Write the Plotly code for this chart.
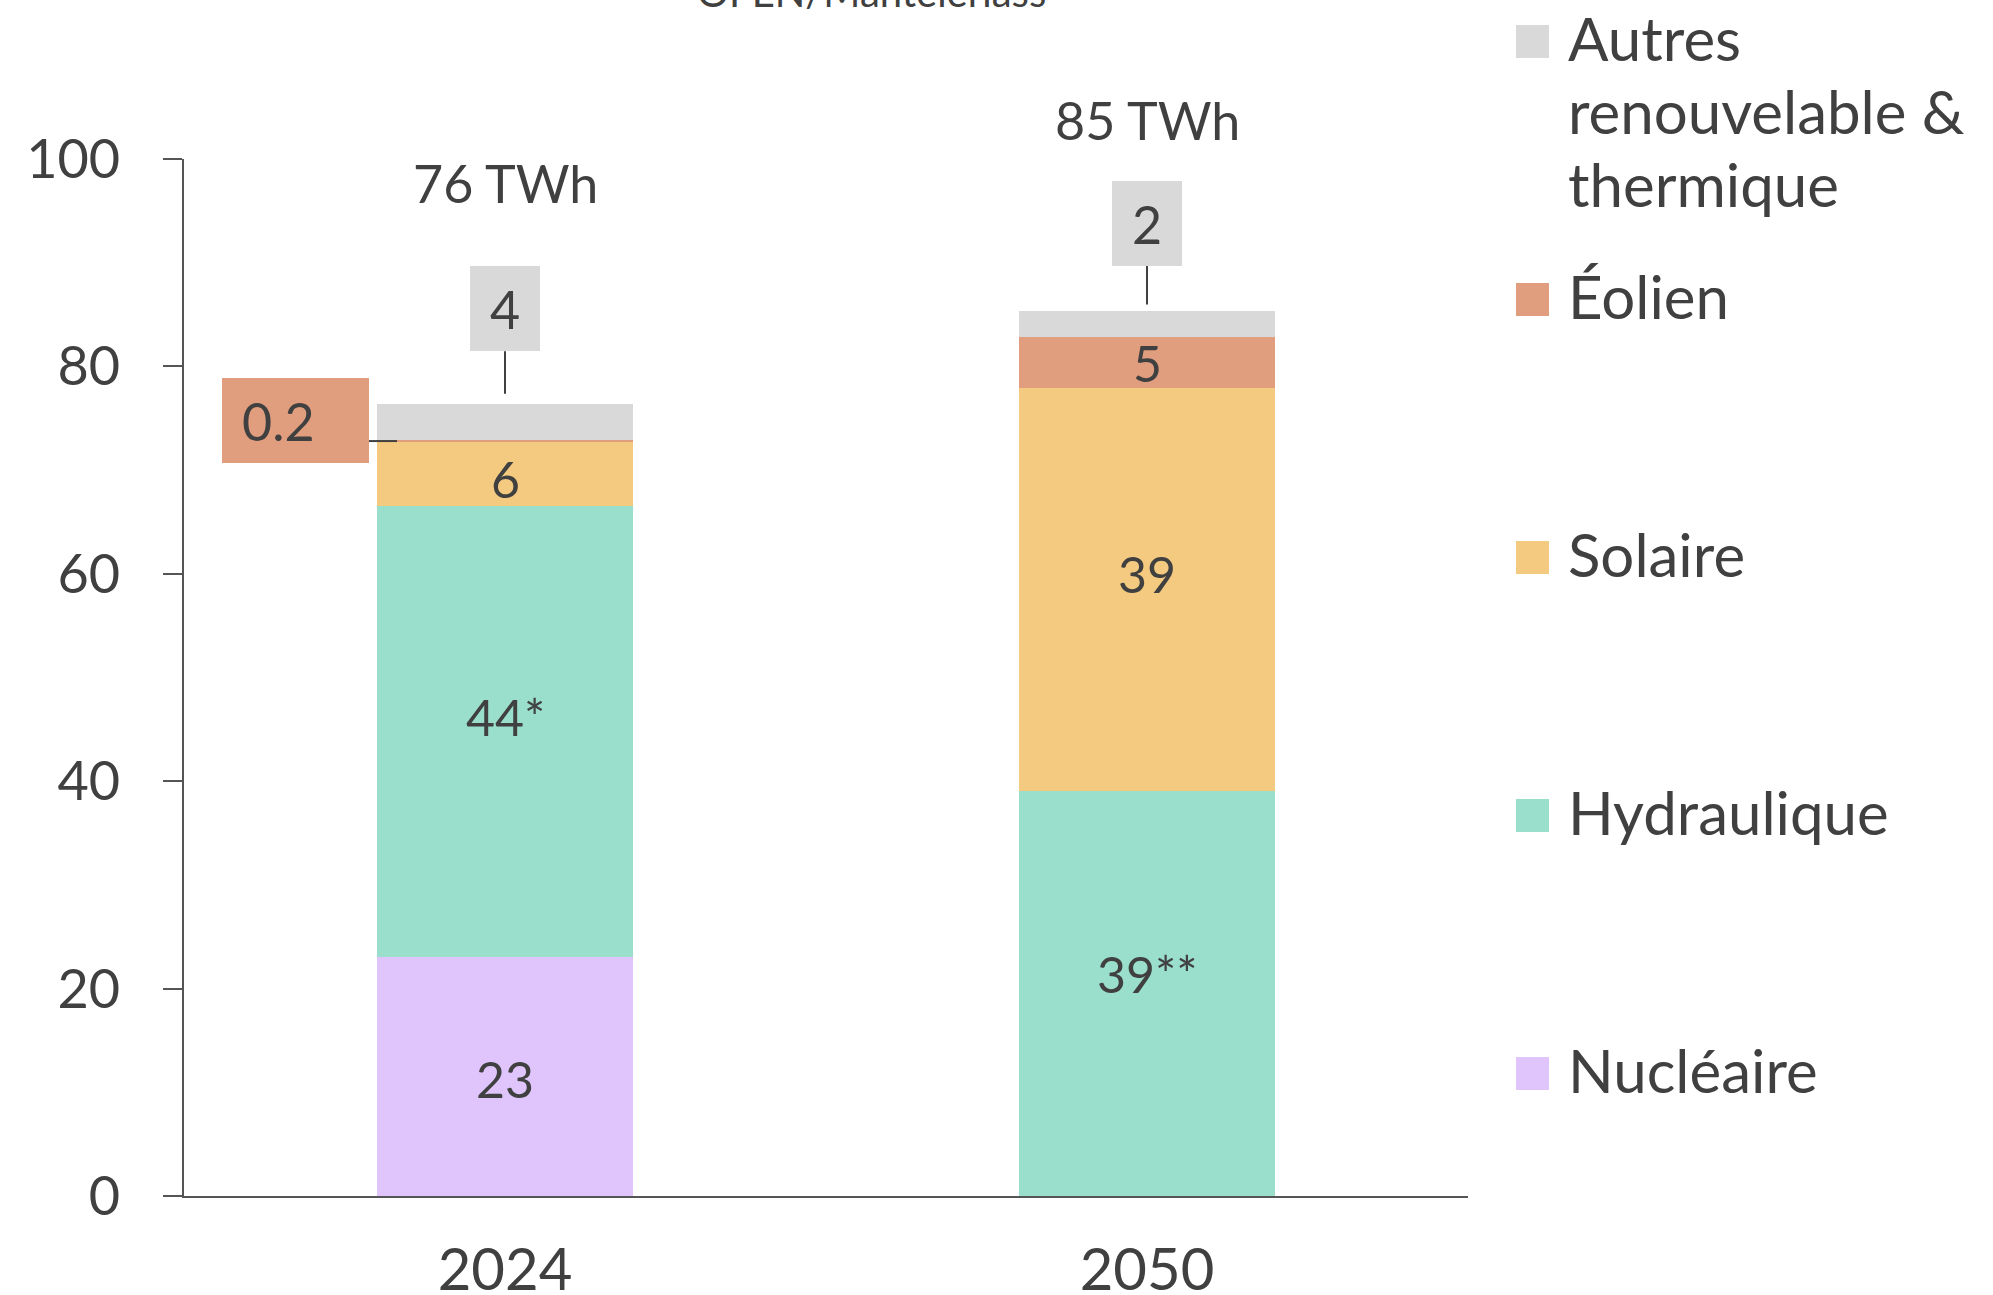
import plotly.graph_objects as go

# ---- data ----
years = ["2024", "2050"]
series_names = ["Nucléaire", "Hydraulique", "Solaire", "Éolien", "Autres renouvelable & thermique"]
nucleaire = [23.0, 0.0]
hydraulique = [43.5, 39.1]
solaire = [6.2, 38.8]
eolien = [0.2, 4.9]
autres = [3.5, 2.5]

nucleaire_labels = ["23", ""]
hydraulique_labels = ["44*", "39**"]
solaire_labels = ["6", "39"]
eolien_labels = ["", "5"]
autres_labels = ["", ""]
eolien_callout = ["0.2", None]
autres_callout = ["4", "2"]
total_labels = ["76 TWh", "85 TWh"]
title_text = "OFEN/Mantelerlass"
legend_lines = {
    "Autres renouvelable & thermique": ["Autres", "renouvelable &", "thermique"],
}

colors = {
    "Nucléaire": "#E0C5FD",
    "Hydraulique": "#9ADFCB",
    "Solaire": "#F3CA7F",
    "Éolien": "#E09E7E",
    "Autres renouvelable & thermique": "#D9D9D9",
}

TEXT = "#404040"
AXIS = "#555555"
FONT = "Lato"

W, H = 1993, 1295
L, R, T, B = 184, 525, 159, 99
PW, PH = W - L - R, H - T - B


def px_x(px):
    return (px - L) / PW


def px_y(py):
    return (H - B - py) / PH


xs = list(range(len(years)))
stack = [
    ("Nucléaire", nucleaire, nucleaire_labels),
    ("Hydraulique", hydraulique, hydraulique_labels),
    ("Solaire", solaire, solaire_labels),
    ("Éolien", eolien, eolien_labels),
    ("Autres renouvelable & thermique", autres, autres_labels),
]
# vertical nudges (px) of the in-bar labels, per series and bar
label_nudge = {
    "Nucléaire": [-2, 0],
    "Hydraulique": [15, 19],
    "Solaire": [-5, 15],
    "Éolien": [0, 0],
    "Autres renouvelable & thermique": [0, 0],
}

fig = go.Figure()
annotations = []
shapes = []
base = [0.0] * len(years)
for name, vals, labs in stack:
    fig.add_trace(go.Bar(
        x=xs, y=vals, name=name, width=0.4,
        marker=dict(color=colors[name], line=dict(width=0)),
        showlegend=False, hoverinfo="skip",
    ))
    for i, lab in enumerate(labs):
        if lab:
            annotations.append(dict(
                x=xs[i], y=base[i] + vals[i] / 2, xref="x", yref="y",
                text=lab, showarrow=False, yanchor="middle",
                yshift=label_nudge[name][i],
                font=dict(family=FONT, size=50, color=TEXT),
            ))
    base = [b + v for b, v in zip(base, vals)]

totals = base

# callouts for small segments on top
for i, lab in enumerate(autres_callout):
    if not lab:
        continue
    annotations.append(dict(
        x=xs[i], y=totals[i], xref="x", yref="y", text=lab,
        showarrow=True, arrowhead=0, arrowwidth=2, arrowcolor=TEXT,
        ax=0, ay=[-95, -88][i], standoff=[10, 7][i],
        bgcolor=colors["Autres renouvelable & thermique"],
        width=70, height=85, borderpad=0, borderwidth=0,
        font=dict(family=FONT, size=52, color=TEXT),
    ))

for i, lab in enumerate(eolien_callout):
    if not lab:
        continue
    ymid = nucleaire[i] + hydraulique[i] + solaire[i] + eolien[i] / 2
    annotations.append(dict(
        x=xs[i], y=ymid, xref="x", yref="y", text=lab, showarrow=False,
        xshift=-210, yshift=21, xanchor="center", yanchor="middle",
        bgcolor=colors["Éolien"], width=107, height=45, borderpad=20,
        borderwidth=0, align="left",
        font=dict(family=FONT, size=52, color=TEXT),
    ))
    shapes.append(dict(
        type="line", xref="x", yref="y", xsizemode="pixel", xanchor=xs[i],
        x0=-137, x1=-108, y0=ymid, y1=ymid,
        line=dict(color=TEXT, width=2),
    ))

# totals
for i, lab in enumerate(total_labels):
    annotations.append(dict(
        x=xs[i], y=totals[i], xref="x", yref="y", text=lab, showarrow=False,
        yshift=[221, 191][i], yanchor="middle",
        font=dict(family=FONT, size=52, color=TEXT),
    ))

# title (clipped at top)
annotations.append(dict(
    x=px_x(871), y=px_y(18), xref="paper", yref="paper", text=title_text,
    showarrow=False, xanchor="center", yanchor="bottom",
    font=dict(family=FONT, size=40, color=TEXT),
))

# custom legend
legend_order = ["Autres renouvelable & thermique", "Éolien", "Solaire", "Hydraulique", "Nucléaire"]
legend_centers = [41.5, 299.5, 557.5, 815.5, 1073.5]
for name, cy in zip(legend_order, legend_centers):
    shapes.append(dict(
        type="rect", xref="paper", yref="paper",
        x0=px_x(1516), x1=px_x(1549), y0=px_y(cy + 16.5), y1=px_y(cy - 16.5),
        fillcolor=colors[name], line=dict(width=0),
    ))
    lines = legend_lines.get(name, [name])
    for k, line in enumerate(lines):
        annotations.append(dict(
            x=px_x(1566), y=px_y(cy - 4 + 73 * k), xref="paper", yref="paper",
            text=line, showarrow=False, xanchor="left", yanchor="middle",
            font=dict(family=FONT, size=60, color=TEXT),
        ))

fig.update_layout(
    width=W, height=H,
    margin=dict(l=L, r=R, t=T, b=B, pad=0, autoexpand=False),
    barmode="stack",
    plot_bgcolor="white", paper_bgcolor="white",
    font=dict(family=FONT, color=TEXT),
    annotations=annotations, shapes=shapes,
    showlegend=False,
    xaxis=dict(
        range=[-0.5, 1.5], tickvals=xs, ticktext=years,
        showline=True, linecolor=AXIS, linewidth=2, ticks="",
        showgrid=False, zeroline=False, fixedrange=True, automargin=False,
        tickfont=dict(family=FONT, size=58, color=TEXT),
        ticklabelstandoff=22,
    ),
    yaxis=dict(
        range=[0, 100], tickvals=[0, 20, 40, 60, 80, 100],
        showline=True, linecolor=AXIS, linewidth=2,
        ticks="outside", ticklen=19, tickwidth=2, tickcolor=AXIS,
        showgrid=False, zeroline=False, fixedrange=True, automargin=False,
        tickfont=dict(family=FONT, size=54, color=TEXT),
        ticklabelstandoff=32,
    ),
)

fig.write_html("out.html", config={"displayModeBar": False},
               post_script="document.body.style.margin='0';")
